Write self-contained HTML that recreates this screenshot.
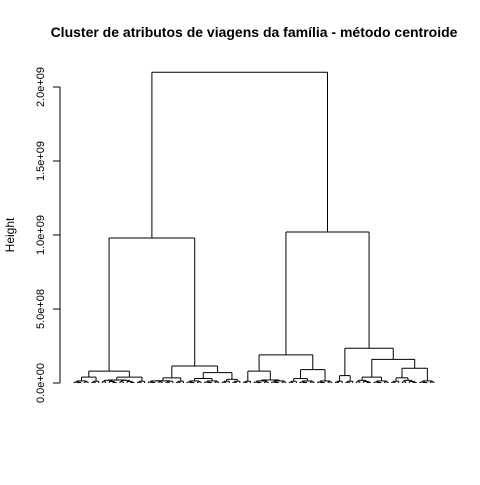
<!DOCTYPE html>
<html><head><meta charset="utf-8"><style>
body{margin:0;background:#fff;width:480px;height:480px;overflow:hidden}
svg{font-family:"Liberation Sans",sans-serif}
</style></head><body>
<svg id="c" width="480" height="480">
<text x="254" y="37" text-anchor="middle" font-weight="bold" font-size="14">Cluster de atributos de viagens da família - método centroide</text>
<text transform="translate(14,235) rotate(-90)" text-anchor="middle" font-size="12">Height</text>
</svg>
<script>
// tick values (in units of 1e9) and labels
const tickValues=[0,0.5,1,1.5,2];
const tickLabels=["0.0e+00","5.0e+08","1.0e+09","1.5e+09","2.0e+09"];
// clump templates (heights in 1e9)
const clumpA=[0.018,[0.008,0,0],[0.01,0,[0.004,0,0]]];
const clumpB=[0.014,[0.006,0,[0.003,0,0]],[0.007,0,0]];
const clumpC=[0.012,[0.005,0,0],0];
// tree: [height, left, right]; leaf = 0
const tree=[2.1,
 [0.98,
  [0.08,[0.04,clumpB,clumpC],[0.04,[0.02,clumpA,clumpA],clumpC]],
  [0.115,[0.035,[0.015,clumpB,clumpC],clumpC],[0.07,[0.03,clumpB,clumpB],[0.025,clumpC,clumpC]]]],
 [1.02,
  [0.19,[0.08,clumpC,[0.02,clumpB,clumpB]],[0.09,[0.03,clumpC,clumpB],clumpB]],
  [0.235,[0.05,clumpC,clumpC],
   [0.16,[0.04,clumpA,clumpB],[0.1,[0.035,clumpC,clumpA],clumpB]]]]];
const svg=document.getElementById('c');
const NS='http://www.w3.org/2000/svg';
const y0=383,pxPer=148;
function yS(h){return y0-h*pxPer;}
function countLeaves(n){return n===0?1:countLeaves(n[1])+countLeaves(n[2]);}
const nLeaves=countLeaves(tree);
const xL=74,xR=434;
function xS(i){return xL+i*(xR-xL)/(nLeaves-1);}
let leafIdx=0;
function line(x1,y1,x2,y2,name){
 const l=document.createElementNS(NS,'line');
 l.setAttribute('x1',x1);l.setAttribute('y1',y1);l.setAttribute('x2',x2);l.setAttribute('y2',y2);
 l.setAttribute('stroke','#000');l.setAttribute('stroke-width','1');
 
 
 svg.appendChild(l);
}
function draw(n){
 if(n===0){const x=xS(leafIdx++);return {x:x,y:y0};}
 const a=draw(n[1]),b=draw(n[2]);const y=yS(n[0]);
 line(a.x,a.y,a.x,y,'dendrogram-branch');
 line(b.x,b.y,b.x,y,'dendrogram-branch');
 line(a.x,y,b.x,y,'dendrogram-merge');
 return {x:(a.x+b.x)/2,y:y};
}
draw(tree);
line(60,yS(tickValues[0]),60,yS(tickValues[tickValues.length-1]),'y-axis-line');
tickValues.forEach((v,i)=>{
 const y=yS(v);
 line(53,y,60,y,'y-axis-tick');
 const t=document.createElementNS(NS,'text');
 t.setAttribute('transform','translate(44,'+y+') rotate(-90)');
 t.setAttribute('text-anchor','middle');t.setAttribute('font-size','11');
 t.textContent=tickLabels[i];
 
 
 svg.appendChild(t);
});
</script>
</body></html>
